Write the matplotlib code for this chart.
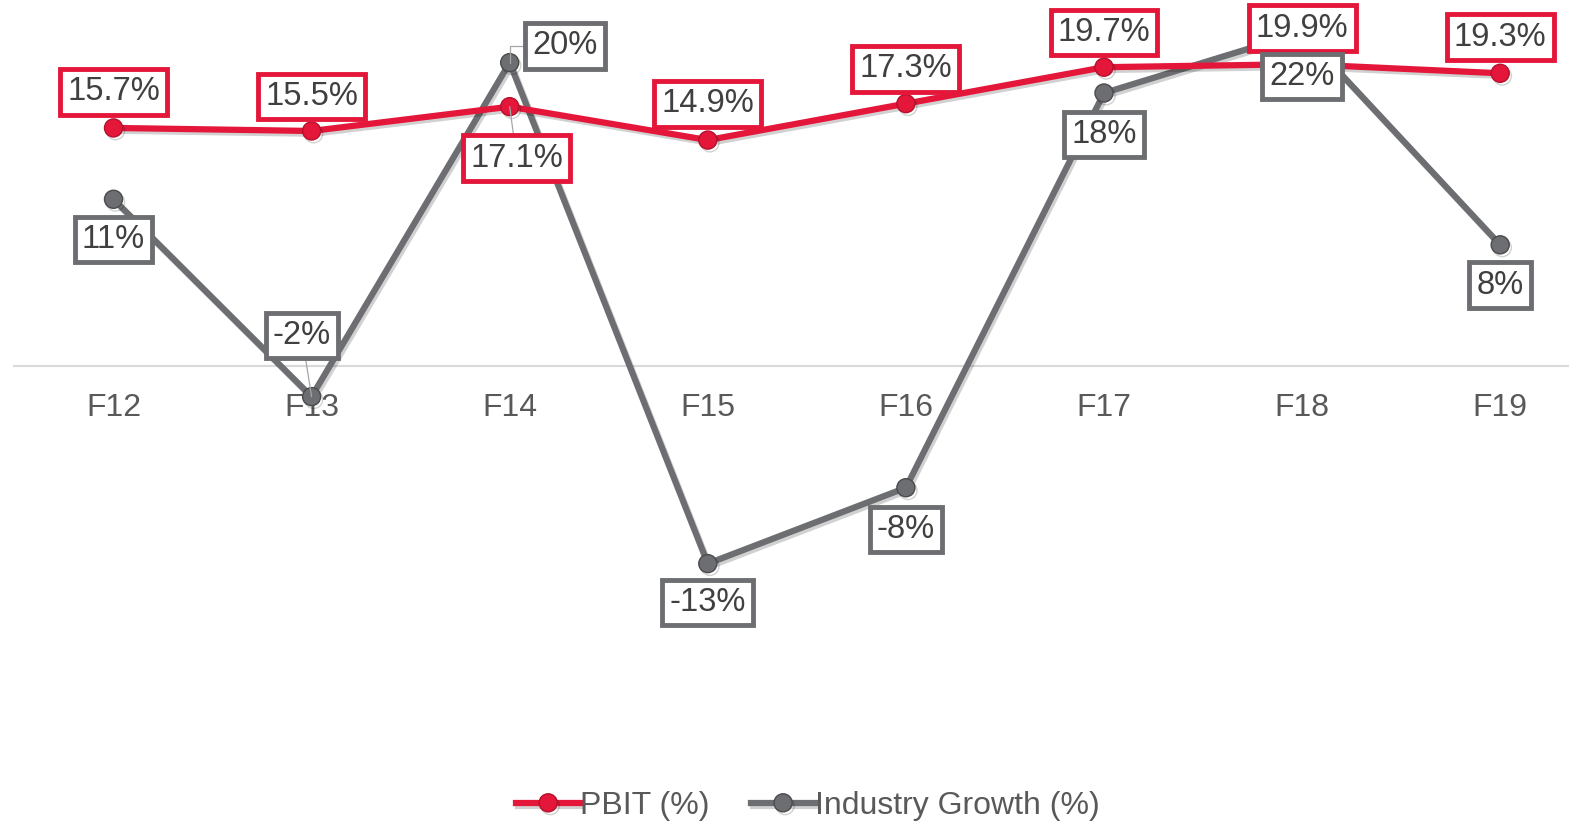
import matplotlib.pyplot as plt
import matplotlib.patheffects as pe
import numpy as np

plt.rcParams['font.family'] = ['Liberation Sans', 'DejaVu Sans']

# data
years = ['F12', 'F13', 'F14', 'F15', 'F16', 'F17', 'F18', 'F19']
pbit = [15.7, 15.5, 17.1, 14.9, 17.3, 19.7, 19.9, 19.3]
growth = [11, -2, 20, -13, -8, 18, 22, 8]

red = '#E4173A'
grey = '#6D6E71'
txt = '#404040'

fig = plt.figure(figsize=(15.76, 8.24), dpi=100)
step = 198.1
left = 113.5 - step / 2
ax = fig.add_axes([left/1576, 104/824, (1576 - 8 - left)/1576, 712/824])
x = np.arange(len(years))

shadow = [pe.SimpleLineShadow(offset=(1.5, -2), alpha=0.18), pe.Normal()]
l1, = ax.plot(x, pbit, color=red, lw=4.5, marker='o', ms=13,
              mfc=red, mec='#B5102C', mew=1, zorder=4, path_effects=shadow,
              label='PBIT (%)')
l2, = ax.plot(x, growth, color=grey, lw=4.5, marker='o', ms=13,
              mfc=grey, mec='#4A4B4D', mew=1, zorder=3, path_effects=shadow,
              label='Industry Growth (%)')

ax.set_xlim(-0.5, -0.5 + (1576 - 8 - left)/step)
ax.set_ylim(-23.3, 23.6)

# offsets of data labels in points (dx, dy)
pbit_off = [(0, 26), (0, 25), (5, -37), (0, 26), (0, 25), (0, 25), (0, 26), (0, 26)]
grow_off = [(0, -29), (-7, 44), (40, 12), (0, -28), (0, -30), (0, -30), (0, -32), (0, -29)]

def label(xi, yi, s, off, col, lead=False, conn='arc3'):
    kw = {}
    if lead:
        kw['arrowprops'] = dict(arrowstyle='-', color='#A6A6A6', lw=0.9,
                                shrinkA=0, shrinkB=0, connectionstyle=conn)
    ax.annotate(s, (xi, yi), xytext=off, textcoords='offset points',
                ha='center', va='center', fontsize=23.5, color=txt, zorder=6,
                bbox=dict(boxstyle='square,pad=0.22', fc='white', ec=col, lw=3.5),
                **kw)

for i in range(len(years)):
    label(x[i], pbit[i], '%.1f%%' % pbit[i], pbit_off[i], red, lead=(i == 2))
for i in range(len(years)):
    conn = 'angle,angleA=0,angleB=90,rad=0' if i == 2 else 'arc3'
    label(x[i], growth[i], '%d%%' % growth[i], grow_off[i], grey,
          lead=(i in (1, 2)), conn=conn)

for s in ['top', 'right', 'left']:
    ax.spines[s].set_visible(False)
ax.spines['bottom'].set_position(('data', 0))
ax.spines['bottom'].set_color('#D9D9D9')
ax.spines['bottom'].set_linewidth(1.5)
ax.spines['bottom'].set_zorder(1)
ax.set_xticks(x)
ax.set_xticklabels(years, fontsize=23, color='#595959')
ax.tick_params(axis='x', length=0, pad=19)
ax.set_yticks([])

fig.legend(handles=[l1, l2], loc='center', bbox_to_anchor=(808/1576, 1 - 806/824),
           ncol=2, frameon=False, fontsize=23, handlelength=2.0,
           handletextpad=0.0, columnspacing=1.3, labelcolor='#595959')

fig.savefig('out.png', dpi=100)
